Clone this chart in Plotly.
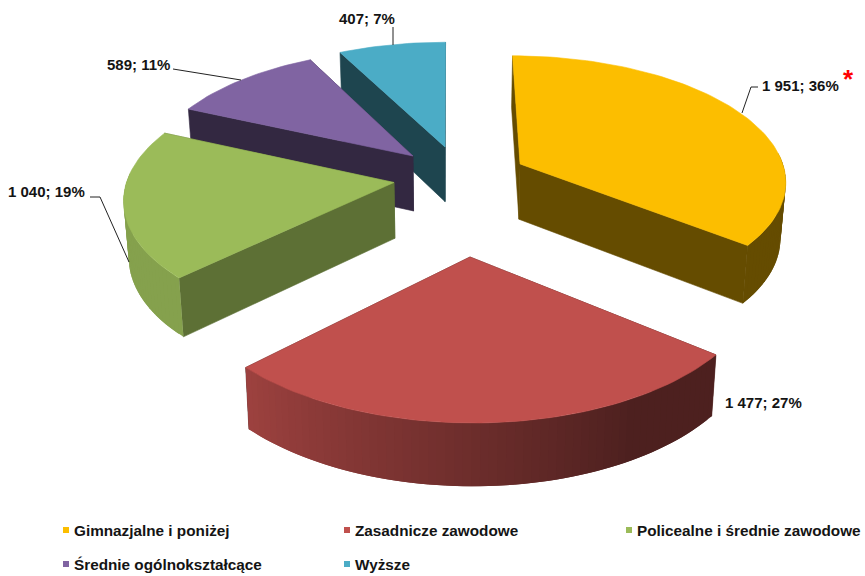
import plotly.graph_objects as go
from math import sin, cos, radians

# data
categories = ['Gimnazjalne i poniżej', 'Zasadnicze zawodowe', 'Policealne i średnie zawodowe',
              'Średnie ogólnokształcące', 'Wyższe']
values = [1951, 1477, 1040, 589, 407]
colors = [(252, 190, 0), (192, 80, 77), (155, 187, 89), (128, 100, 162), (75, 172, 198)]

# pie geometry, all in pixels of the 865x576 page
VX, CY = 450, 250      # vanishing x and reference line of the tilted plane
HORIZON = 1100         # horizon distance above CY
SQUASH = 0.5           # vertical squash of the plane
RADIUS = 285
DEPTH = 58
TAPER = 0.016          # the bottom face is a bit narrower
# how far each slice is pulled out of the middle, in plane units
pull_x = [76, 19.9, -59.7, -40.5, -5.5]
pull_y = [186.6, -13.9, 143.9, 205.6, 227.3]
cut_shade = [0.4, 0.4, 0.6, 0.4, 0.4]
draw_order = [4, 3, 0, 2, 1]

# label text position and leader line for every slice
label_x = [760, 723, 6, 105, 337]
label_y = [85, 402, 191, 64, 18]
leaders = [
    [(742, 113), (751, 87), (758, 87)],
    [],
    [(90, 197), (100, 197), (129, 262)],
    [(173, 69), (241, 80)],
    [(393, 45), (393, 27)],
]
legend_x = [63, 344, 626, 63, 344]
legend_y = [530, 530, 530, 564, 564]
FONT = 'Liberation Sans'
TEXT = '#141414'


def project(x, y, drop=False):
    k = SQUASH / HORIZON
    s = 1 / (1 + k * y)
    sx = x * s
    sy = CY - SQUASH * y * s
    if drop:
        sx *= 1 - TAPER
        sy += DEPTH * s ** 0.6
    return VX + sx, sy


def point(i, deg, r=RADIUS, drop=False):
    a = radians(deg)
    return project(pull_x[i] + r * sin(a), pull_y[i] + r * cos(a), drop)


def shade(rgb, f):
    return 'rgb(%d,%d,%d)' % tuple(round(c * f) for c in rgb)


def wall_shade(deg):
    # round side: light on the left, going dark towards the right
    if deg >= 226:
        return 0.86
    if deg <= 150:
        return 0.4
    return 0.4 + (deg - 150) / 76 * 0.42


def add_poly(fig, pts, color, edge=0.6):
    xs = [p[0] for p in pts] + [pts[0][0]]
    ys = [p[1] for p in pts] + [pts[0][1]]
    fig.add_trace(go.Scatter(x=xs, y=ys, mode='lines', fill='toself', fillcolor=color,
                             line=dict(color=color, width=edge), hoverinfo='skip', showlegend=False))


total = sum(values)
starts = []
acc = 0
for v in values:
    starts.append(acc / total * 360)
    acc += v
ends = starts[1:] + [360]

fig = go.Figure()

for i in draw_order:
    a0, a1 = starts[i], ends[i]
    steps = max(int((a1 - a0) / 1.5), 2)
    angles = [a0 + (a1 - a0) * n / steps for n in range(steps + 1)]

    # flat cut faces, the one further back first
    cuts = sorted([a0, a1], key=lambda d: -cos(radians(d)))
    for d in cuts:
        add_poly(fig, [point(i, 0, 0), point(i, d), point(i, d, drop=True), point(i, 0, 0, True)],
                 shade(colors[i], cut_shade[i]))

    # round side as strips, only the part facing us; each strip runs under the next one
    front = [d for d in angles if cos(radians(d)) < 0.1]
    for n in range(len(front) - 1):
        d0, d1 = front[n], front[n + 1]
        over = front[min(n + 2, len(front) - 1)]
        path = [d0, (d0 + over) / 2, over]
        add_poly(fig, [point(i, d) for d in path] + [point(i, d, drop=True) for d in reversed(path)],
                 shade(colors[i], wall_shade((d0 + d1) / 2)), edge=0)

    # top face
    add_poly(fig, [point(i, 0, 0)] + [point(i, d) for d in angles], shade(colors[i], 1))

# data labels
for i, v in enumerate(values):
    txt = f'{v:,}'.replace(',', ' ') + '; %d%%' % round(v / total * 100)
    fig.add_annotation(x=label_x[i], y=label_y[i], text=txt, xanchor='left', yanchor='middle',
                       showarrow=False, font=dict(family=FONT, size=15, color=TEXT))
    for (x0, y0), (x1, y1) in zip(leaders[i], leaders[i][1:]):
        fig.add_shape(type='line', x0=x0, y0=y0, x1=x1, y1=y1, line=dict(color='#222222', width=1))

fig.add_annotation(x=848, y=79, text='*', showarrow=False, xanchor='center', yanchor='middle',
                   font=dict(family=FONT, size=26, color='#ff0000'))

# legend
for i, name in enumerate(categories):
    fig.add_trace(go.Scatter(x=[legend_x[i] + 3], y=[legend_y[i]], mode='markers',
                             marker=dict(symbol='square', size=6, color=shade(colors[i], 1)),
                             hoverinfo='skip', showlegend=False))
    fig.add_annotation(x=legend_x[i] + 9, y=legend_y[i], text=name, xanchor='left', yanchor='middle',
                       showarrow=False, font=dict(family=FONT, size=15.3, color=TEXT))

for a in fig.layout.annotations:
    a.text = '<b>%s</b>' % a.text

fig.update_layout(
    width=865, height=576,
    margin=dict(l=0, r=0, t=0, b=0),
    paper_bgcolor='white', plot_bgcolor='white',
    showlegend=False,
    xaxis=dict(range=[0, 865], visible=False, fixedrange=True),
    yaxis=dict(range=[576, 0], visible=False, fixedrange=True),
)

fig.write_html('out.html', config=dict(displayModeBar=False), post_script="document.body.style.margin='0';")
